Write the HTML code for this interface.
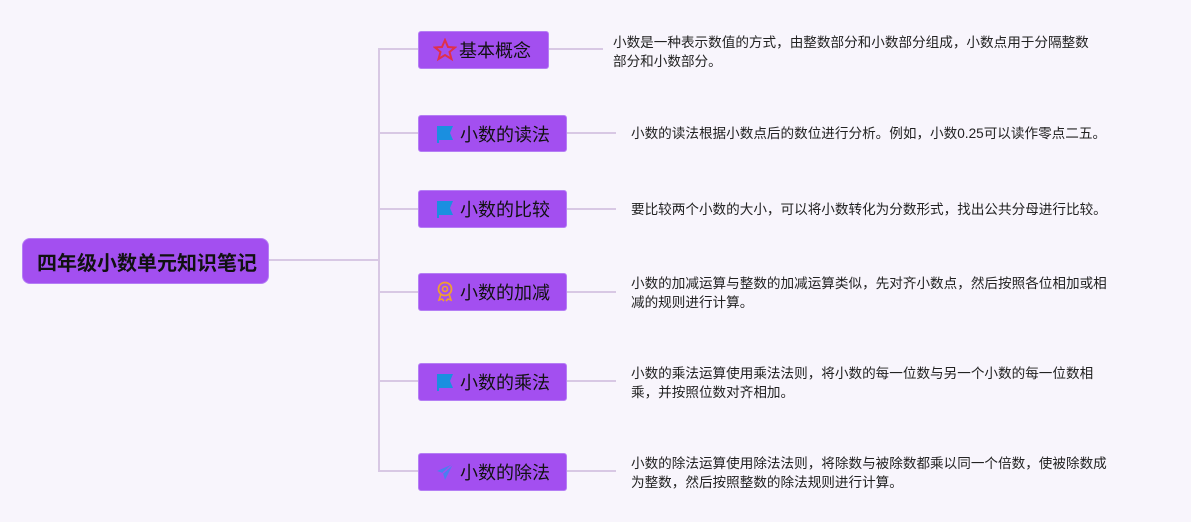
<!DOCTYPE html>
<html><head><meta charset="utf-8"><style>
body{margin:0;width:1191px;height:522px;background:#f8f5fc;position:relative;overflow:hidden;font-family:"Liberation Sans","Noto Sans CJK SC",sans-serif;}
.l{position:absolute;background:#d8c8e4;}
.b{position:absolute;background:#a34ff0;border:1px solid #b57ef5;border-radius:3px;box-sizing:border-box;color:#111;font-size:18px;display:flex;align-items:center;padding-left:16px;white-space:nowrap;}
.b svg{margin-right:5px}
.t{position:absolute;font-size:13.6px;line-height:19px;color:#222;white-space:nowrap;}
</style></head><body>
<div class="l" style="left:268px;top:259px;width:111px;height:2px"></div>
<div class="l" style="left:378px;top:48px;width:2px;height:424px"></div>
<div class="l" style="left:379px;top:48px;width:40px;height:2px"></div>
<div class="l" style="left:379px;top:132px;width:40px;height:2px"></div>
<div class="l" style="left:379px;top:208px;width:40px;height:2px"></div>
<div class="l" style="left:379px;top:291px;width:40px;height:2px"></div>
<div class="l" style="left:379px;top:380px;width:40px;height:2px"></div>
<div class="l" style="left:379px;top:470px;width:40px;height:2px"></div>
<div class="l" style="left:548px;top:48px;width:55px;height:2px"></div>
<div class="l" style="left:566px;top:132px;width:50px;height:2px"></div>
<div class="l" style="left:566px;top:208px;width:50px;height:2px"></div>
<div class="l" style="left:566px;top:291px;width:50px;height:2px"></div>
<div class="l" style="left:566px;top:380px;width:50px;height:2px"></div>
<div class="l" style="left:566px;top:470px;width:50px;height:2px"></div>

<div class="b" style="left:22px;top:238px;width:247px;height:46px;border-radius:8px;font-size:20px;font-weight:bold;padding-left:14px;">四年级小数单元知识笔记</div>

<div class="b" style="left:418px;top:31px;width:131px;height:38px;padding-left:14px"><svg width="24" height="24" viewBox="0 0 24 24"><polygon points="12,2 15,9 22,9.5 16.5,14 18.5,21 12,17 5.5,21 7.5,14 2,9.5 9,9" fill="none" stroke="#e0304a" stroke-width="2"/></svg><span style="margin-left:-3px">基本概念</span></div>
<div class="b" style="left:418px;top:115px;width:149px;height:37px"><svg width="20" height="20" viewBox="0 0 20 20"><path d="M2 2H18L15 9L18 16H4V19H2Z" fill="#1a8fe0"/></svg>小数的读法</div>
<div class="b" style="left:418px;top:190px;width:149px;height:38px"><svg width="20" height="20" viewBox="0 0 20 20"><path d="M2 2H18L15 9L18 16H4V19H2Z" fill="#1a8fe0"/></svg>小数的比较</div>
<div class="b" style="left:418px;top:273px;width:149px;height:38px"><svg width="20" height="22" viewBox="0 0 20 22"><circle cx="10" cy="8" r="6.5" fill="none" stroke="#f0a030" stroke-width="1.8"/><circle cx="10" cy="8" r="2.5" fill="none" stroke="#f0a030" stroke-width="1.6"/><path d="M6 13L4 19L7 18L9 20M14 13L16 19L13 18L11 20" fill="none" stroke="#f0a030" stroke-width="1.6"/></svg>小数的加减</div>
<div class="b" style="left:418px;top:363px;width:149px;height:38px"><svg width="20" height="20" viewBox="0 0 20 20"><path d="M2 2H18L15 9L18 16H4V19H2Z" fill="#1a8fe0"/></svg>小数的乘法</div>
<div class="b" style="left:418px;top:453px;width:149px;height:38px"><svg width="20" height="20" viewBox="0 0 20 20"><path d="M18 2L2 9L8 11L10 18Z" fill="#4a7ff0"/><path d="M18 2L8 11" stroke="#a34ff0" stroke-width="1.5"/></svg>小数的除法</div>

<div class="t" style="left:613px;top:33px">小数是一种表示数值的方式，由整数部分和小数部分组成，小数点用于分隔整数<br>部分和小数部分。</div>
<div class="t" style="left:631px;top:124px">小数的读法根据小数点后的数位进行分析。例如，小数0.25可以读作零点二五。</div>
<div class="t" style="left:631px;top:200px">要比较两个小数的大小，可以将小数转化为分数形式，找出公共分母进行比较。</div>
<div class="t" style="left:631px;top:274px">小数的加减运算与整数的加减运算类似，先对齐小数点，然后按照各位相加或相<br>减的规则进行计算。</div>
<div class="t" style="left:631px;top:364px">小数的乘法运算使用乘法法则，将小数的每一位数与另一个小数的每一位数相<br>乘，并按照位数对齐相加。</div>
<div class="t" style="left:631px;top:454px">小数的除法运算使用除法法则，将除数与被除数都乘以同一个倍数，使被除数成<br>为整数，然后按照整数的除法规则进行计算。</div>
</body></html>
